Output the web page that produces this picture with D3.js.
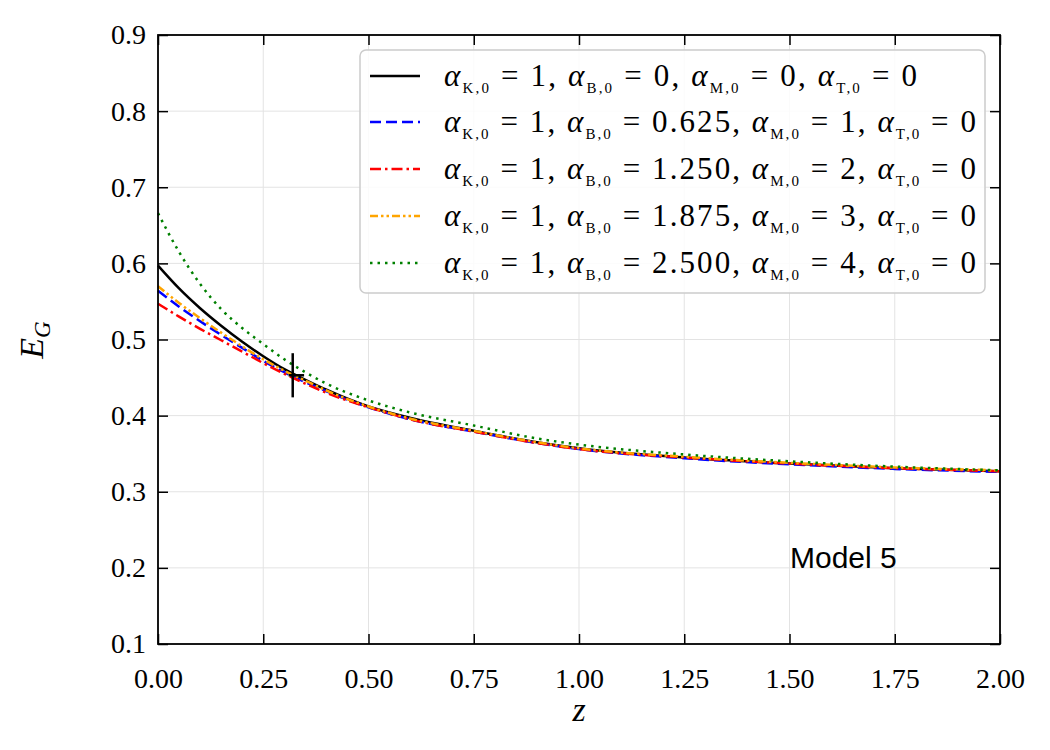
<!DOCTYPE html>
<html>
<head>
<meta charset="utf-8">
<script src="https://cdn.jsdelivr.net/npm/d3@7"></script>
<style>
  body { margin: 0; background: #fff; }
  svg { display: block; }
</style>
</head>
<body>
<div id="app"></div>
<script>
// redshift samples
const zValues = [0, 0.05, 0.1, 0.15, 0.2, 0.25, 0.3, 0.35, 0.4, 0.5, 0.6, 0.75, 0.9, 1.0, 1.25, 1.5, 1.75, 2.0];

// E_G for each parameter set
const egBlack  = [0.597, 0.567, 0.541, 0.518, 0.497, 0.478, 0.461, 0.447, 0.434, 0.412, 0.397, 0.380, 0.365, 0.357, 0.345, 0.337, 0.331, 0.327];
const egBlue   = [0.564, 0.543, 0.524, 0.506, 0.489, 0.472, 0.457, 0.444, 0.432, 0.411, 0.395, 0.379, 0.364, 0.356, 0.344, 0.336, 0.330, 0.326];
const egRed    = [0.547, 0.530, 0.514, 0.499, 0.484, 0.469, 0.455, 0.442, 0.430, 0.411, 0.395, 0.379, 0.364, 0.356, 0.345, 0.337, 0.331, 0.327];
const egOrange = [0.570, 0.548, 0.528, 0.509, 0.491, 0.474, 0.459, 0.446, 0.433, 0.412, 0.396, 0.380, 0.365, 0.357, 0.346, 0.338, 0.332, 0.328];
const egGreen  = [0.666, 0.615, 0.573, 0.540, 0.515, 0.494, 0.474, 0.457, 0.442, 0.420, 0.404, 0.387, 0.370, 0.362, 0.349, 0.340, 0.333, 0.328];

const alphaB = ["0", "0.625", "1.250", "1.875", "2.500"];
const alphaM = ["0", "1", "2", "3", "4"];
const colors = ["#000000", "#0000ff", "#ff0000", "#ffa500", "#008000"];
const dashes = ["none", "11,5", "11,4,2.5,4", "8,3,2.5,3,2.5,3", "2.5,5"];
const seriesValues = [egBlack, egBlue, egRed, egOrange, egGreen];

// observational point
const pointZ = 0.32;
const pointZLo = 0.31;
const pointZHi = 0.347;
const pointEG = 0.453;
const pointErr = 0.029;

const xTicks = [0, 0.25, 0.5, 0.75, 1.0, 1.25, 1.5, 1.75, 2.0];
const yTicks = [0.1, 0.2, 0.3, 0.4, 0.5, 0.6, 0.7, 0.8, 0.9];

const width = 1050, height = 750;
const mLeft = 158, mRight = 1000, mTop = 35, mBottom = 644;

const svg = d3.select("#app").append("svg")
  .attr("width", width)
  .attr("height", height);

const x = d3.scaleLinear().domain([0, 2]).range([mLeft, mRight]);
const y = d3.scaleLinear().domain([0.1, 0.9]).range([mBottom, mTop]);

const serif = "'Liberation Serif', 'DejaVu Serif', serif";

//grid
svg.append("g").selectAll("line").data(xTicks).enter().append("line")
  .attr("x1", d => x(d)).attr("x2", d => x(d))
  .attr("y1", mTop).attr("y2", mBottom)
  .attr("stroke", "#e3e3e3").attr("stroke-width", 1);
svg.append("g").selectAll("line").data(yTicks).enter().append("line")
  .attr("x1", mLeft).attr("x2", mRight)
  .attr("y1", d => y(d)).attr("y2", d => y(d))
  .attr("stroke", "#e3e3e3").attr("stroke-width", 1);

//curves
const line = d3.line()
  .x((d, i) => x(zValues[i]))
  .y(d => y(d))
  .curve(d3.curveMonotoneX);

const plot = svg.append("g");
plot.selectAll("path").data(seriesValues).enter().append("path")
  .attr("d", d => line(d))
  .attr("fill", "none")
  .attr("stroke", (d, i) => colors[i])
  .attr("stroke-width", 2.5)
  .attr("stroke-dasharray", (d, i) => dashes[i]);

//cross marker
plot.append("line")
  .attr("x1", x(pointZ)).attr("x2", x(pointZ))
  .attr("y1", y(pointEG - pointErr)).attr("y2", y(pointEG + pointErr))
  .attr("stroke", "#000").attr("stroke-width", 2.5);
plot.append("line")
  .attr("x1", x(pointZLo)).attr("x2", x(pointZHi))
  .attr("y1", y(pointEG)).attr("y2", y(pointEG))
  .attr("stroke", "#000").attr("stroke-width", 2.5);

//axes
const styleAxis = g => {
  g.select(".domain").remove();
  g.selectAll(".tick line").attr("stroke", "#000").attr("stroke-width", 1.5);
  g.selectAll(".tick text")
    .attr("fill", "#000")
    .style("font-family", serif)
    .style("font-size", "28px");
};

svg.append("g")
  .attr("transform", `translate(0,${mBottom})`)
  .call(d3.axisBottom(x).tickValues(xTicks).tickFormat(d3.format(".2f")).tickSize(-10).tickPadding(24))
  .call(styleAxis);
svg.append("g")
  .attr("transform", `translate(${mLeft},0)`)
  .call(d3.axisLeft(y).tickValues(yTicks).tickFormat(d3.format(".1f")).tickSize(-10).tickPadding(12))
  .call(styleAxis);
svg.append("g")
  .attr("transform", `translate(0,${mTop})`)
  .call(d3.axisTop(x).tickValues(xTicks).tickFormat("").tickSize(-10))
  .call(styleAxis);
svg.append("g")
  .attr("transform", `translate(${mRight},0)`)
  .call(d3.axisRight(y).tickValues(yTicks).tickFormat("").tickSize(-10))
  .call(styleAxis);

//frame
svg.append("rect")
  .attr("x", mLeft).attr("y", mTop)
  .attr("width", mRight - mLeft).attr("height", mBottom - mTop)
  .attr("fill", "none").attr("stroke", "#000").attr("stroke-width", 1.8);

//axis labels
svg.append("text")
  .attr("x", (mLeft + mRight) / 2).attr("y", 721)
  .attr("text-anchor", "middle")
  .style("font-family", serif).style("font-style", "italic").style("font-size", "34px")
  .text("z");

const yl = svg.append("text")
  .attr("transform", "translate(43,340) rotate(-90)")
  .attr("text-anchor", "middle")
  .style("font-family", serif).style("font-size", "34px");
yl.append("tspan").style("font-style", "italic").text("E");
yl.append("tspan").attr("dy", 7).style("font-style", "italic").style("font-size", "23px").text("G");

//model label
svg.append("text")
  .attr("x", 790).attr("y", 568)
  .style("font-family", "'Liberation Sans', Arial, sans-serif").style("font-size", "30px")
  .text("Model 5");

//legend
const legend = svg.append("g");
legend.append("rect")
  .attr("x", 360).attr("y", 50)
  .attr("width", 625).attr("height", 243)
  .attr("rx", 6)
  .attr("fill", "#fff").attr("fill-opacity", 0.85)
  .attr("stroke", "#cccccc").attr("stroke-width", 1.5);

const rowY = [76, 122, 169, 216, 263];
const rowWidth = [473, 532, 532, 532, 532];
const rows = legend.selectAll("g.row").data(alphaB).enter().append("g")
  .attr("class", "row")
  .attr("transform", (d, i) => `translate(0,${rowY[i]})`);

rows.append("line")
  .attr("x1", 370).attr("x2", 420)
  .attr("stroke", (d, i) => colors[i])
  .attr("stroke-width", 2.5)
  .attr("stroke-dasharray", (d, i) => dashes[i]);

rows.each(function(d, i) {
  const t = d3.select(this).append("text")
    .attr("x", 444).attr("y", 10)
    .style("font-family", serif).style("font-size", "31px");
  const parts = [["K,0", " = 1, "], ["B,0", " = " + alphaB[i] + ", "], ["M,0", " = " + alphaM[i] + ", "], ["T,0", " = 0"]];
  parts.forEach(p => {
    t.append("tspan").style("font-style", "italic").text("α");
    t.append("tspan").attr("dy", 7).style("font-size", "15px").text(p[0]);
    t.append("tspan").attr("dy", -7).text(p[1]);
  });
  t.attr("textLength", rowWidth[i]).attr("lengthAdjust", "spacing");
});
</script>
</body>
</html>
